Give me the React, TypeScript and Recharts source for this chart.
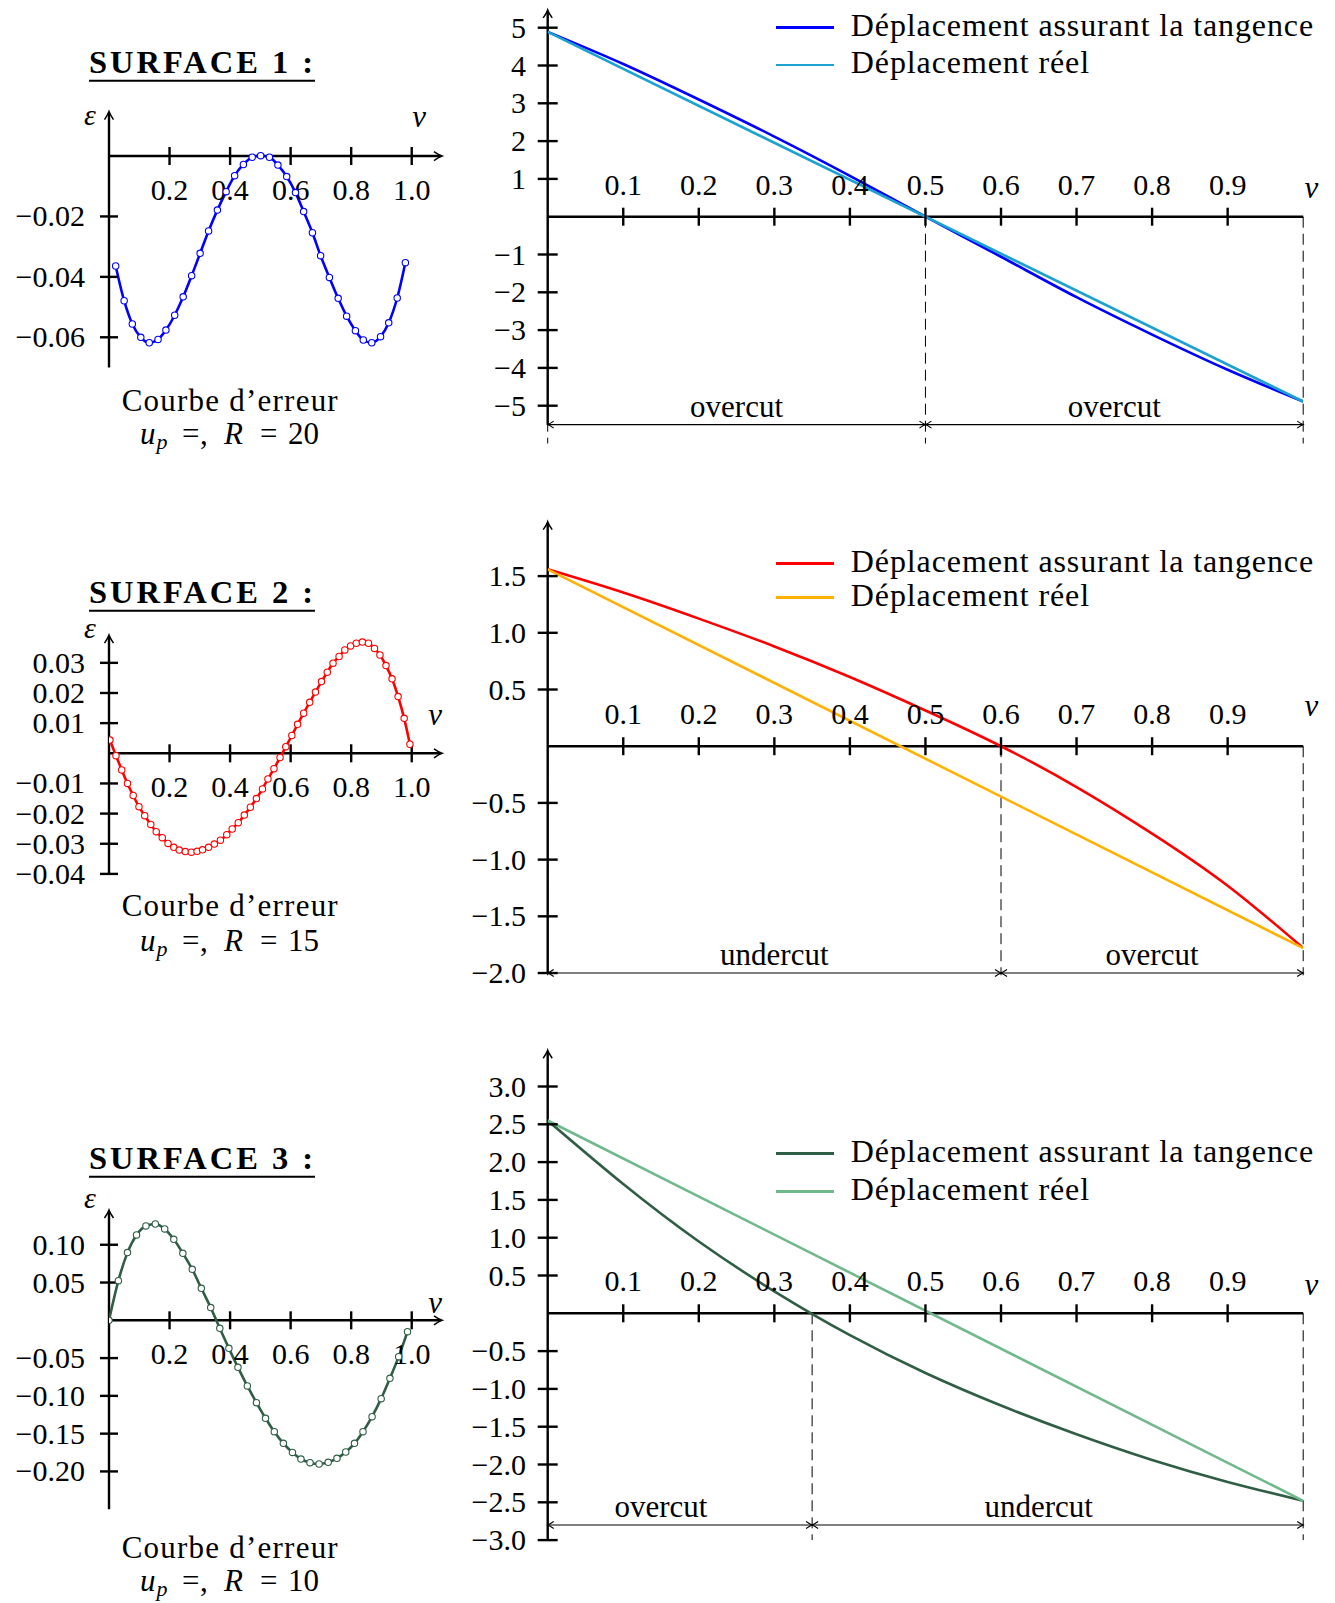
import React from 'react';
import { LineChart, Line, XAxis, YAxis, ReferenceLine, ReferenceDot, Legend } from 'recharts';

const FONT = '"Liberation Serif", "Times New Roman", Times, serif';

// ---------- Error curves (left) ----------
const err1V = [0.022,0.050,0.077,0.105,0.133,0.162,0.188,0.217,0.245,0.273,0.301,0.329,0.358,0.387,0.415,0.444,0.473,0.501,0.530,0.558,0.587,0.616,0.643,0.672,0.699,0.728,0.757,0.785,0.814,0.840,0.868,0.897,0.924,0.952,0.979];
const err1E = [-0.0364,-0.0479,-0.0556,-0.0600,-0.0618,-0.0607,-0.0576,-0.0527,-0.0466,-0.0396,-0.0322,-0.0248,-0.0179,-0.0118,-0.0065,-0.0028,-0.0004,0.0001,-0.0004,-0.0030,-0.0068,-0.0121,-0.0184,-0.0254,-0.0330,-0.0402,-0.0471,-0.0530,-0.0578,-0.0609,-0.0618,-0.0598,-0.0552,-0.0470,-0.0353];

const err2V = [0.003,0.023,0.042,0.061,0.080,0.099,0.118,0.138,0.156,0.176,0.195,0.214,0.232,0.252,0.272,0.291,0.309,0.329,0.348,0.368,0.389,0.407,0.427,0.447,0.467,0.487,0.507,0.525,0.545,0.565,0.584,0.604,0.623,0.643,0.663,0.682,0.702,0.721,0.740,0.760,0.779,0.798,0.817,0.837,0.857,0.877,0.895,0.915,0.935,0.955,0.975,0.994];
const err2E = [0.0044,-0.0008,-0.0055,-0.0100,-0.0140,-0.0177,-0.0207,-0.0236,-0.0260,-0.0280,-0.0299,-0.0312,-0.0321,-0.0326,-0.0328,-0.0325,-0.0320,-0.0312,-0.0301,-0.0288,-0.0270,-0.0251,-0.0230,-0.0205,-0.0179,-0.0150,-0.0118,-0.0085,-0.0051,-0.0014,0.0022,0.0059,0.0096,0.0133,0.0169,0.0203,0.0238,0.0269,0.0299,0.0321,0.0343,0.0356,0.0365,0.0369,0.0365,0.0348,0.0326,0.0291,0.0247,0.0188,0.0116,0.0030];

const err3V = [0,0.031,0.061,0.091,0.122,0.153,0.184,0.214,0.244,0.275,0.305,0.336,0.366,0.396,0.426,0.457,0.487,0.517,0.546,0.576,0.606,0.634,0.664,0.694,0.724,0.753,0.782,0.811,0.839,0.869,0.899,0.928,0.957,0.986];
const err3E = [0,0.0525,0.0896,0.1130,0.1249,0.1275,0.1209,0.1072,0.0887,0.0675,0.0424,0.0168,-0.0106,-0.0371,-0.0622,-0.0869,-0.1090,-0.1297,-0.1474,-0.1628,-0.1748,-0.1836,-0.1884,-0.1902,-0.1880,-0.1827,-0.1743,-0.1628,-0.1474,-0.1275,-0.1037,-0.0768,-0.0481,-0.0150];

const leftXTicks = [0.2, 0.4, 0.6, 0.8, 1.0];
const err1YTicks = [-0.02, -0.04, -0.06];
const err2YTicks = [0.03, 0.02, 0.01, -0.01, -0.02, -0.03, -0.04];
const err3YTicks = [0.10, 0.05, -0.05, -0.10, -0.15, -0.20];

// ---------- Displacements (right) ----------
const dispV = [0, 0.1, 0.2, 0.3, 0.4, 0.5, 0.6, 0.7, 0.8, 0.9, 1.0];
const tang1 = [4.89, 4.04, 3.10, 2.12, 1.08, 0, -1.06, -2.13, -3.12, -4.05, -4.89];
const tang2 = [1.56, 1.355, 1.125, 0.88, 0.61, 0.315, 0, -0.36, -0.77, -1.23, -1.78];
const tang3 = [2.55, 1.71, 0.95, 0.29, -0.29, -0.79, -1.22, -1.60, -1.94, -2.23, -2.48];
const reelV = [0, 1];
const reel1 = [4.89, -4.89];
const reel2 = [1.56, -1.78];
const reel3 = [2.55, -2.48];

const rightXTicks = [0.1, 0.2, 0.3, 0.4, 0.5, 0.6, 0.7, 0.8, 0.9];
const disp1YTicks = [5, 4, 3, 2, 1, -1, -2, -3, -4, -5];
const disp2YTicks = [1.5, 1.0, 0.5, -0.5, -1.0, -1.5, -2.0];
const disp3YTicks = [3.0, 2.5, 2.0, 1.5, 1.0, 0.5, -0.5, -1.0, -1.5, -2.0, -2.5, -3.0];

const cuts1 = [0, 0.5, 1];
const cuts2 = [0, 0.6, 1];
const cuts3 = [0, 0.35, 1];
const cutLabels1 = ['overcut', 'overcut'];
const cutLabels2 = ['undercut', 'overcut'];
const cutLabels3 = ['overcut', 'undercut'];
const cutLabelAt1 = [0.25, 0.75];
const cutLabelAt2 = [0.3, 0.8];
const cutLabelAt3 = [0.15, 0.65];

const surfaceTitles = ['SURFACE 1 :', 'SURFACE 2 :', 'SURFACE 3 :'];
const radii = [20, 15, 10];
const seriesNames = ['Déplacement assurant la tangence', 'Déplacement réel'];

// ---------- helpers ----------
const toRows = (xs: number[], ys: number[]) => xs.map((v, i) => ({ v, y: ys[i] }));
const fmt = (n: number, d: number) => (n < 0 ? '\u2212' : '') + Math.abs(n).toFixed(d);

type Box = { left: number; top: number; width: number; height: number };
type Geo = { box: Box; xDom: [number, number]; yDom: [number, number]; xPx: [number, number]; yPx: [number, number] };

const marginOf = (g: Geo) => ({
  left: g.xPx[0] - g.box.left,
  right: g.box.left + g.box.width - g.xPx[1],
  top: g.yPx[1] - g.box.top,
  bottom: g.box.top + g.box.height - g.yPx[0],
});

const AX = 2.4;

const vTick = (half: number) => (p: any) => (
  <line x1={p.cx} y1={p.cy - half} x2={p.cx} y2={p.cy + half} stroke="#000" strokeWidth={AX} />
);
const hTick = (half: number) => (p: any) => (
  <line x1={p.cx - half} y1={p.cy} x2={p.cx + half} y2={p.cy} stroke="#000" strokeWidth={AX} />
);
const textShape = (txt: string, dx: number, dy: number, anchor: string, size = 30, italic = false) => (p: any) => (
  <text x={p.cx + dx} y={p.cy + dy} textAnchor={anchor as any} fontFamily={FONT} fontSize={size}
    fontStyle={italic ? 'italic' : 'normal'} fill="#000">{txt}</text>
);

const upAxisShape = (p: any) => {
  const x = p.x2, y = p.y2;
  return (
    <g>
      <line x1={p.x1} y1={p.y1} x2={x} y2={y + 1.5} stroke="#000" strokeWidth={AX} />
      <path d={`M ${x - 4.5} ${y + 8} Q ${x - 1} ${y + 3} ${x} ${y} Q ${x + 1} ${y + 3} ${x + 4.5} ${y + 8}`}
        fill="none" stroke="#000" strokeWidth={1.5} />
    </g>
  );
};
const rightAxisShape = (arrow: boolean) => (p: any) => {
  const x = p.x2, y = p.y2;
  return (
    <g>
      <line x1={p.x1} y1={p.y1} x2={arrow ? x - 1.5 : x} y2={y} stroke="#000" strokeWidth={AX} />
      {arrow && (
        <path d={`M ${x - 8} ${y - 4.5} Q ${x - 3} ${y - 1} ${x} ${y} Q ${x - 3} ${y + 1} ${x - 8} ${y + 4.5}`}
          fill="none" stroke="#000" strokeWidth={1.5} />
      )}
    </g>
  );
};
const dimShape = (p: any) => (
  <g>
    <line x1={p.x1} y1={p.y1} x2={p.x2} y2={p.y2} stroke="#000" strokeWidth={1.1} />
    <path d={`M ${p.x1 + 6} ${p.y1 - 3.5} Q ${p.x1 + 2} ${p.y1 - 0.8} ${p.x1} ${p.y1} Q ${p.x1 + 2} ${p.y1 + 0.8} ${p.x1 + 6} ${p.y1 + 3.5}`}
      fill="none" stroke="#000" strokeWidth={1.1} />
    <path d={`M ${p.x2 - 6} ${p.y2 - 3.5} Q ${p.x2 - 2} ${p.y2 - 0.8} ${p.x2} ${p.y2} Q ${p.x2 - 2} ${p.y2 + 0.8} ${p.x2 - 6} ${p.y2 + 3.5}`}
      fill="none" stroke="#000" strokeWidth={1.1} />
  </g>
);

const legendContent = (rowH: number) => (props: any) => (
  <div style={{ fontFamily: FONT, color: '#000' }}>
    {(props.payload || []).map((e: any, i: number) => (
      <div key={i} style={{ display: 'flex', alignItems: 'center', height: rowH }}>
        <div style={{ width: 58.5, height: 2.6, background: e.color, marginRight: 16.8, flex: 'none' }} />
        <span style={{ fontSize: 32, letterSpacing: '0.9px', lineHeight: `${rowH}px`, position: 'relative', top: -2.5, whiteSpace: 'nowrap' }}>
          {e.value}
        </span>
      </div>
    ))}
  </div>
);

// ---------- Error panel ----------
type ErrProps = {
  geo: Geo; vs: number[]; es: number[]; color: string; yTicks: number[];
  yAxisEnds: [number, number]; epsDy: number; vDx: number; vDy: number;
};
function ErrorPanel({ geo, vs, es, color, yTicks, yAxisEnds, epsDy, vDx, vDy }: ErrProps) {
  return (
    <div style={{ position: 'absolute', left: geo.box.left, top: geo.box.top }}>
      <LineChart width={geo.box.width} height={geo.box.height} margin={marginOf(geo)}>
        <XAxis type="number" dataKey="v" domain={geo.xDom} hide allowDataOverflow />
        <YAxis type="number" dataKey="y" domain={geo.yDom} hide allowDataOverflow />
        <ReferenceLine segment={[{ x: 0, y: yAxisEnds[0] }, { x: 0, y: yAxisEnds[1] }]} ifOverflow="visible" shape={upAxisShape} />
        <ReferenceLine segment={[{ x: 0, y: 0 }, { x: geo.xDom[1], y: 0 }]} ifOverflow="visible" shape={rightAxisShape(true)} />
        {leftXTicks.map((t) => (
          <ReferenceDot key={'xt' + t} x={t} y={0} r={0} ifOverflow="visible" shape={vTick(9)} />
        ))}
        {leftXTicks.map((t) => (
          <ReferenceDot key={'xl' + t} x={t} y={0} r={0} ifOverflow="visible" shape={textShape(t.toFixed(1), 0, 44, 'middle')} />
        ))}
        {yTicks.map((t) => (
          <ReferenceDot key={'yt' + t} x={0} y={t} r={0} ifOverflow="visible" shape={hTick(9)} />
        ))}
        {yTicks.map((t) => (
          <ReferenceDot key={'yl' + t} x={0} y={t} r={0} ifOverflow="visible" shape={textShape(fmt(t, 2), -24, 10, 'end')} />
        ))}
        <ReferenceDot x={0} y={yAxisEnds[1]} r={0} ifOverflow="visible" shape={textShape('\u03b5', -19, epsDy, 'middle', 30, true)} />
        <ReferenceDot x={1} y={0} r={0} ifOverflow="visible" shape={textShape('v', vDx, vDy, 'middle', 31, true)} />
        <Line data={toRows(vs, es)} dataKey="y" type="monotone" stroke={color} strokeWidth={2.6}
          dot={{ r: 3.2, fill: '#fff', stroke: color, strokeWidth: 1.1 }} isAnimationActive={false} />
      </LineChart>
    </div>
  );
}

// ---------- Displacement panel ----------
type DispProps = {
  geo: Geo; tang: number[]; reel: number[]; colors: [string, string]; yTicks: number[]; yDigits: number;
  cuts: number[]; cutLabels: string[]; cutLabelAt: number[]; dimY: number; dashBottom: number;
  yAxisEnds: [number, number]; vDy: number; legendTop: number; legendRowH: number;
};
function DisplacementPanel(p: DispProps) {
  const { geo } = p;
  return (
    <div style={{ position: 'absolute', left: geo.box.left, top: geo.box.top }}>
      <LineChart width={geo.box.width} height={geo.box.height} margin={marginOf(geo)}>
        <XAxis type="number" dataKey="v" domain={geo.xDom} hide allowDataOverflow />
        <YAxis type="number" dataKey="y" domain={geo.yDom} hide allowDataOverflow />
        {p.cuts.map((c) => (
          <ReferenceLine key={'dash' + c} segment={[{ x: c, y: 0 }, { x: c, y: p.dashBottom }]} ifOverflow="visible"
            stroke="#000" strokeWidth={1} strokeDasharray="11 6" />
        ))}
        {p.cuts.slice(0, -1).map((c, i) => (
          <ReferenceLine key={'dim' + c} segment={[{ x: c, y: p.dimY }, { x: p.cuts[i + 1], y: p.dimY }]} ifOverflow="visible" shape={dimShape} />
        ))}
        {p.cutLabels.map((s, i) => (
          <ReferenceDot key={'cl' + i} x={p.cutLabelAt[i]} y={p.dimY} r={0} ifOverflow="visible" shape={textShape(s, 0, -8, 'middle', 31)} />
        ))}
        <ReferenceLine segment={[{ x: 0, y: p.yAxisEnds[0] }, { x: 0, y: p.yAxisEnds[1] }]} ifOverflow="visible" shape={upAxisShape} />
        <ReferenceLine segment={[{ x: 0, y: 0 }, { x: 1, y: 0 }]} ifOverflow="visible" shape={rightAxisShape(false)} />
        {rightXTicks.map((t) => (
          <ReferenceDot key={'xt' + t} x={t} y={0} r={0} ifOverflow="visible" shape={vTick(9)} />
        ))}
        {rightXTicks.map((t) => (
          <ReferenceDot key={'xl' + t} x={t} y={0} r={0} ifOverflow="visible" shape={textShape(t.toFixed(1), 0, -22, 'middle')} />
        ))}
        {p.yTicks.map((t) => (
          <ReferenceDot key={'yt' + t} x={0} y={t} r={0} ifOverflow="visible" shape={hTick(10)} />
        ))}
        {p.yTicks.map((t) => (
          <ReferenceDot key={'yl' + t} x={0} y={t} r={0} ifOverflow="visible" shape={textShape(fmt(t, p.yDigits), -21.7, 10, 'end')} />
        ))}
        <ReferenceDot x={1} y={0} r={0} ifOverflow="visible" shape={textShape('v', 8.3, p.vDy, 'middle', 31, true)} />
        <Line name={seriesNames[0]} data={toRows(dispV, p.tang)} dataKey="y" type="natural" stroke={p.colors[0]}
          strokeWidth={2.6} dot={false} isAnimationActive={false} />
        <Line name={seriesNames[1]} data={toRows(reelV, p.reel)} dataKey="y" type="linear" stroke={p.colors[1]}
          strokeWidth={2.6} dot={false} isAnimationActive={false} />
        <Legend layout="vertical" align="center" verticalAlign="middle"
          wrapperStyle={{ left: 335.5, top: p.legendTop - geo.box.top, width: 560 }}
          content={legendContent(p.legendRowH)} />
      </LineChart>
    </div>
  );
}

// ---------- geometry ----------
const RX: [number, number] = [547.7, 1303.2];
const LX: [number, number] = [109, 442];

const geoR1: Geo = { box: { left: 440, top: 0, width: 895, height: 470 }, xDom: [0, 1], yDom: [-6, 5.5], xPx: RX, yPx: [443.5, 8.8] };
const geoR2: Geo = { box: { left: 440, top: 480, width: 895, height: 520 }, xDom: [0, 1], yDom: [-2.02, 2.0], xPx: RX, yPx: [975.3, 519.4] };
const geoR3: Geo = { box: { left: 440, top: 1020, width: 895, height: 583 }, xDom: [0, 1], yDom: [-3.0, 3.5], xPx: RX, yPx: [1540.1, 1048.7] };

const geoL1: Geo = { box: { left: 0, top: 95, width: 450, height: 290 }, xDom: [0, 1.1], yDom: [-0.07, 0.015], xPx: LX, yPx: [367.5, 110.7] };
const geoL2: Geo = { box: { left: 0, top: 612, width: 450, height: 280 }, xDom: [0, 1.1], yDom: [-0.04, 0.04], xPx: LX, yPx: [873.9, 632.7] };
const geoL3: Geo = { box: { left: 0, top: 1180, width: 450, height: 345 }, xDom: [0, 1.1], yDom: [-0.25, 0.146], xPx: LX, yPx: [1509.2, 1210] };

const titleBaselines = [73.3, 603.3, 1169.3];
const captionBaselines = [410.5, 916, 1558];
const caption2Baselines = [443.5, 950.5, 1591];

export default function App() {
  return (
    <div style={{ position: 'absolute', left: 0, top: 0, width: 1335, height: 1603, background: '#fff', overflow: 'hidden' }}>
      <svg width={1335} height={1603} style={{ position: 'absolute', left: 0, top: 0 }}>
        {surfaceTitles.map((t, i) => (
          <g key={t}>
            <text x={89} y={titleBaselines[i]} fontFamily={FONT} fontWeight="bold" fontSize={32.5}
              textLength={224} lengthAdjust="spacing" fill="#000">{t}</text>
            <line x1={89} x2={315} y1={titleBaselines[i] + 7.4} y2={titleBaselines[i] + 7.4} stroke="#000" strokeWidth={2} />
          </g>
        ))}
        {radii.map((r, i) => (
          <g key={'cap' + i} fontFamily={FONT} fill="#000">
            <text x={121.7} y={captionBaselines[i]} fontSize={31} textLength={216} lengthAdjust="spacing">Courbe d’erreur</text>
            <text y={caption2Baselines[i]} fontSize={31}>
              <tspan x={140} fontStyle="italic">u</tspan>
              <tspan x={156.5} dy={5} fontStyle="italic" fontSize={22}>p</tspan>
              <tspan x={182} dy={-5}>=</tspan>
              <tspan x={200}>,</tspan>
              <tspan x={224} fontStyle="italic">R</tspan>
              <tspan x={260}>=</tspan>
              <tspan x={288}>{String(r)}</tspan>
            </text>
          </g>
        ))}
      </svg>

      <ErrorPanel geo={geoL1} vs={err1V} es={err1E} color="#0000ff" yTicks={err1YTicks}
        yAxisEnds={[-0.07, 0.0147]} epsDy={13.3} vDx={7.3} vDy={-29.3} />
      <ErrorPanel geo={geoL2} vs={err2V} es={err2E} color="#ff0000" yTicks={err2YTicks}
        yAxisEnds={[-0.04, 0.0392]} epsDy={3.3} vDx={23.3} vDy={-28.3} />
      <ErrorPanel geo={geoL3} vs={err3V} es={err3E} color="#2f5e45" yTicks={err3YTicks}
        yAxisEnds={[-0.25, 0.146]} epsDy={-1.7} vDx={23.3} vDy={-7} />

      <DisplacementPanel geo={geoR1} tang={tang1} reel={reel1} colors={['#0000ff', '#1aa3d0']} yTicks={disp1YTicks} yDigits={0}
        cuts={cuts1} cutLabels={cutLabels1} cutLabelAt={cutLabelAt1} dimY={-5.5} dashBottom={-6}
        yAxisEnds={[-5.5, 5.47]} vDy={-18.4} legendTop={9.05} legendRowH={37.3} />
      <DisplacementPanel geo={geoR2} tang={tang2} reel={reel2} colors={['#ff0000', '#ffb000']} yTicks={disp2YTicks} yDigits={1}
        cuts={cuts2} cutLabels={cutLabels2} cutLabelAt={cutLabelAt2} dimY={-2.0} dashBottom={-2.02}
        yAxisEnds={[-2.0, 1.98]} vDy={-30} legendTop={546.3} legendRowH={34} />
      <DisplacementPanel geo={geoR3} tang={tang3} reel={reel3} colors={['#2f5e45', '#6fb98c']} yTicks={disp3YTicks} yDigits={1}
        cuts={cuts3} cutLabels={cutLabels3} cutLabelAt={cutLabelAt3} dimY={-2.8} dashBottom={-3.0}
        yAxisEnds={[-3.0, 3.48]} vDy={-18} legendTop={1134.1} legendRowH={38.3} />
    </div>
  );
}
